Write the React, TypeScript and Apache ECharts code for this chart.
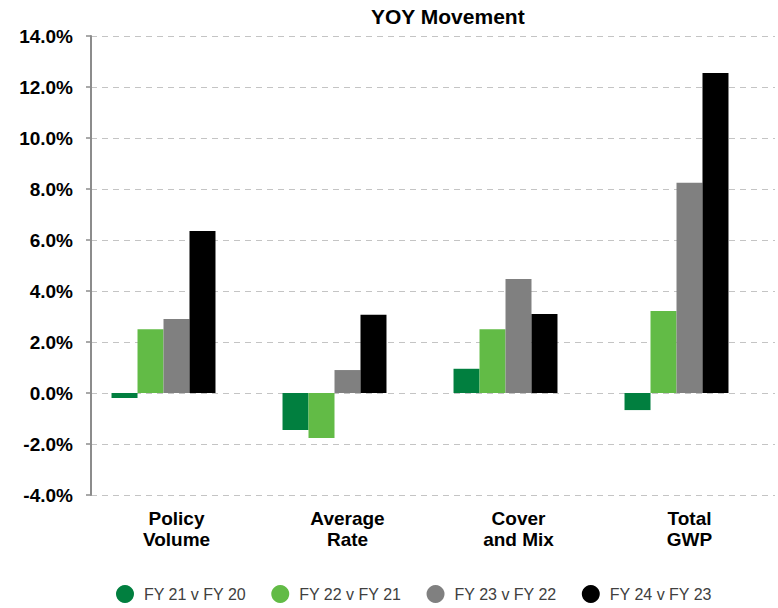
import React, { useEffect, useRef } from "react";
import * as echarts from "echarts";

const categories = ["Policy\nVolume", "Average\nRate", "Cover\nand Mix", "Total\nGWP"];
const seriesNames = ["FY 21 v FY 20", "FY 22 v FY 21", "FY 23 v FY 22", "FY 24 v FY 23"];
const fy21v20 = [-0.2, -1.45, 0.95, -0.67];
const fy22v21 = [2.5, -1.76, 2.5, 3.22];
const fy23v22 = [2.9, 0.9, 4.47, 8.25];
const fy24v23 = [6.35, 3.07, 3.1, 12.55];
const seriesColors = ["#017F3F", "#62BB46", "#808080", "#000000"];

const FONT = "'Liberation Sans', Arial, Helvetica, sans-serif";

export default function App() {
  const ref = useRef<HTMLDivElement>(null);
  useEffect(() => {
    if (!ref.current) return;
    const chart = echarts.init(ref.current, null, { renderer: "svg" });
    const data = [fy21v20, fy22v21, fy23v22, fy24v23];
    const series: any[] = data.map((d, i) => ({
      name: seriesNames[i],
      type: "bar",
      data: d,
      barGap: "0%",
      barCategoryGap: "24%",
      itemStyle: { color: seriesColors[i] },
    }));
    // empty slot series (keeps bars offset like the original)
    series.push({
      name: "spacer",
      type: "bar",
      data: categories.map(() => null),
      barGap: "0%",
      barCategoryGap: "24%",
      itemStyle: { color: "transparent" },
    });
    chart.setOption({
      animation: false,
      textStyle: { fontFamily: FONT },
      title: {
        text: "YOY Movement",
        left: 366,
        top: 1,
        textStyle: { fontFamily: FONT, fontSize: 21, fontWeight: "bold", color: "#000" },
      },
      grid: { left: 91, right: 3, top: 36, bottom: 113, containLabel: false },
      xAxis: {
        type: "category",
        data: categories,
        axisLine: { show: false },
        axisTick: { show: false },
        axisLabel: {
          fontFamily: FONT,
          fontSize: 19,
          fontWeight: "bold",
          color: "#000",
          lineHeight: 21,
          margin: 13,
        },
      },
      yAxis: {
        type: "value",
        min: -4,
        max: 14,
        interval: 2,
        axisLine: { show: true, lineStyle: { color: "#8c8c8c", width: 2 } },
        axisTick: { show: true, length: 5, lineStyle: { color: "#8c8c8c", width: 1.5 } },
        splitLine: { show: true, lineStyle: { type: [6, 5], color: "#c4c4c4", width: 1 } },
        axisLabel: {
          formatter: (v: number) => `${v.toFixed(1)}%`,
          fontFamily: FONT,
          fontSize: 19,
          fontWeight: "bold",
          color: "#000",
          margin: 18,
        },
      },
      legend: {
        data: seriesNames,
        left: 116,
        top: 585,
        padding: 0,
        icon: "circle",
        itemWidth: 28,
        itemHeight: 18,
        itemGap: 25,
        textStyle: { fontFamily: FONT, fontSize: 16, color: "#404040" },
      },
      series,
    });
    return () => chart.dispose();
  }, []);
  return <div ref={ref} style={{ width: 778, height: 608, position: "absolute", left: 0, top: 0 }} />;
}
